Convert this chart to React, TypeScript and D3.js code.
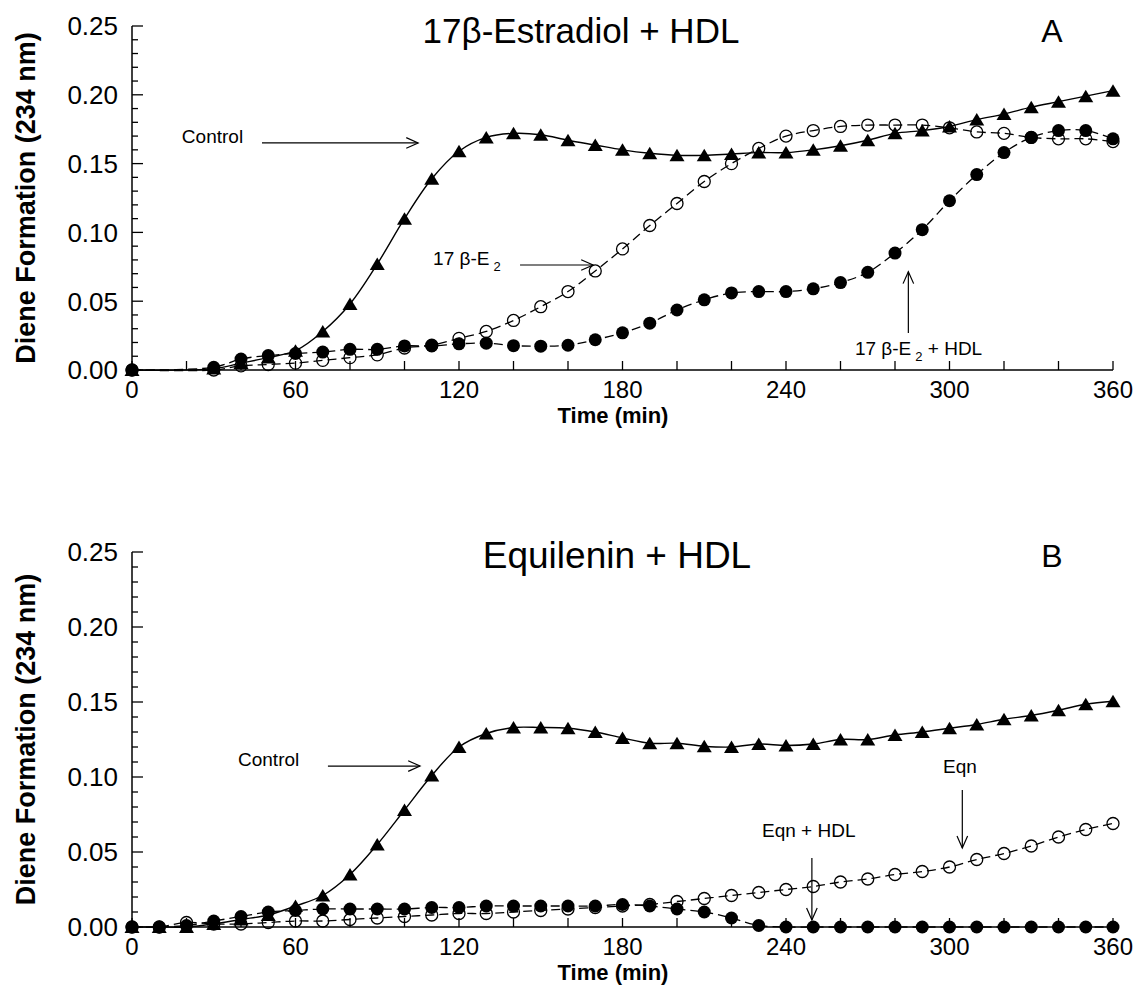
import React from "react";
import * as d3 from "d3";

// time points (min)
const timesA = [0, 30, 40, 50, 60, 70, 80, 90, 100, 110, 120, 130, 140, 150, 160, 170, 180, 190, 200, 210, 220, 230, 240, 250, 260, 270, 280, 290, 300, 310, 320, 330, 340, 350, 360];
const controlA = [0, 0.001, 0.005, 0.009, 0.014, 0.028, 0.048, 0.077, 0.110, 0.139, 0.159, 0.169, 0.172, 0.171, 0.167, 0.1635, 0.160, 0.1575, 0.156, 0.156, 0.157, 0.158, 0.158, 0.160, 0.163, 0.167, 0.172, 0.174, 0.177, 0.182, 0.186, 0.191, 0.195, 0.199, 0.203];
const e2A = [0, 0, 0.003, 0.004, 0.005, 0.007, 0.009, 0.011, 0.016, 0.018, 0.023, 0.028, 0.036, 0.046, 0.057, 0.072, 0.088, 0.105, 0.121, 0.137, 0.150, 0.161, 0.170, 0.174, 0.177, 0.178, 0.178, 0.178, 0.176, 0.173, 0.172, 0.169, 0.168, 0.168, 0.166];
const e2HdlA = [0, 0.002, 0.008, 0.0105, 0.012, 0.013, 0.015, 0.015, 0.0175, 0.0175, 0.019, 0.0195, 0.0177, 0.0173, 0.018, 0.022, 0.027, 0.034, 0.0436, 0.051, 0.056, 0.057, 0.057, 0.059, 0.0635, 0.071, 0.085, 0.102, 0.123, 0.142, 0.158, 0.169, 0.174, 0.174, 0.168];

const timesB = [0, 10, 20, 30, 40, 50, 60, 70, 80, 90, 100, 110, 120, 130, 140, 150, 160, 170, 180, 190, 200, 210, 220, 230, 240, 250, 260, 270, 280, 290, 300, 310, 320, 330, 340, 350, 360];
const controlB = [0, 0, 0, 0.002, 0.005, 0.008, 0.014, 0.021, 0.035, 0.055, 0.078, 0.101, 0.120, 0.129, 0.133, 0.133, 0.1325, 0.130, 0.126, 0.1225, 0.1225, 0.1205, 0.120, 0.122, 0.121, 0.122, 0.125, 0.125, 0.128, 0.130, 0.1325, 0.135, 0.1385, 0.141, 0.1445, 0.1485, 0.1505];
const eqnB = [0, 0, 0.003, 0.002, 0.002, 0.003, 0.004, 0.004, 0.005, 0.006, 0.007, 0.008, 0.009, 0.009, 0.010, 0.011, 0.012, 0.013, 0.014, 0.015, 0.017, 0.019, 0.021, 0.023, 0.025, 0.027, 0.030, 0.032, 0.035, 0.037, 0.040, 0.045, 0.049, 0.054, 0.060, 0.065, 0.069];
const eqnHdlB = [0, 0, 0.001, 0.004, 0.007, 0.010, 0.011, 0.012, 0.012, 0.012, 0.012, 0.013, 0.013, 0.014, 0.014, 0.014, 0.014, 0.014, 0.015, 0.014, 0.012, 0.010, 0.006, 0.001, 0, 0, 0, 0, 0, 0, 0, 0, 0, 0, 0, 0, 0];

const xTickValues = [0, 20, 40, 60, 80, 100, 120, 140, 160, 180, 200, 220, 240, 260, 280, 300, 320, 340, 360];
const xTickLabels = [0, 60, 120, 180, 240, 300, 360];
const yTickLabels = [0, 0.05, 0.1, 0.15, 0.2, 0.25];

const FONT = '"Liberation Sans", Arial, Helvetica, sans-serif';
const TRI = "M0,-6.5L7.5,6L-7.5,6Z";

type Ann = {
  parts: { t: string; sub?: boolean }[];
  at: [number, number]; // text start (time, value)
  from: [number, number];
  to: [number, number];
};

const annA: Ann[] = [
  { parts: [{ t: "Control" }], at: [18.3, 0.165], from: [47.7, 0.165], to: [105, 0.165] },
  { parts: [{ t: "17 β-E" }, { t: "2", sub: true }], at: [110.5, 0.0763], from: [142.4, 0.0763], to: [169.2, 0.0763] },
  { parts: [{ t: "17 β-E" }, { t: "2", sub: true }, { t: " + HDL" }], at: [265.3, 0.0109], from: [284.9, 0.0269], to: [284.9, 0.0714] },
];
const annB: Ann[] = [
  { parts: [{ t: "Control" }], at: [38.9, 0.1073], from: [71.9, 0.1073], to: [105.7, 0.1073] },
  { parts: [{ t: "Eqn + HDL" }], at: [231.2, 0.06], from: [249.5, 0.046], to: [249.5, 0.0047] },
  { parts: [{ t: "Eqn" }], at: [297.6, 0.1027], from: [304.7, 0.0913], to: [304.7, 0.0527] },
];

function Panel(props: {
  y0: number; y1: number; times: number[];
  control: number[]; open: number[]; filled: number[];
  title: string; titleX: number; titleY: number; titleSize: number; letter: string; anns: Ann[];
}) {
  const { y0, y1, times, control, open, filled, title, titleX, titleY, titleSize, letter, anns } = props;
  const x = d3.scaleLinear().domain([0, 360]).range([132, 1113]);
  const y = d3.scaleLinear().domain([0, 0.25]).range([y0, y1]);
  const line = d3.line<number>()
    .x((_, i) => x(times[i]))
    .y(d => y(d))
    .curve(d3.curveCatmullRom.alpha(0.5));
  const minor = d3.range(0, 26).map(i => i / 100);
  const xL = x(0);

  const arrow = (a: Ann, k: number) => {
    const [fx, fy] = [x(a.from[0]), y(a.from[1])];
    const [tx, ty] = [x(a.to[0]), y(a.to[1])];
    const ang = Math.atan2(ty - fy, tx - fx);
    const L = 13, s = 0.42;
    const h1 = [tx - L * Math.cos(ang - s), ty - L * Math.sin(ang - s)];
    const h2 = [tx - L * Math.cos(ang + s), ty - L * Math.sin(ang + s)];
    return (
      <g key={"ar" + k} stroke="#000" strokeWidth={1.2} fill="none">
        <line x1={fx} y1={fy} x2={tx} y2={ty} />
        <polyline points={`${h1[0]},${h1[1]} ${tx},${ty} ${h2[0]},${h2[1]}`} />
      </g>
    );
  };

  return (
    <g>
      {/* axes */}
      <line x1={xL} x2={x(360)} y1={y0} y2={y0} stroke="#000" strokeWidth={1.5} />
      <line x1={xL} x2={xL} y1={y0} y2={y1} stroke="#000" strokeWidth={1.5} />
      {minor.map(v => {
        const major = Math.round(v * 100) % 5 === 0;
        return <line key={"yt" + v} x1={xL} x2={xL + (major ? 11 : 6)} y1={y(v)} y2={y(v)} stroke="#000" strokeWidth={1.3} />;
      })}
      {xTickValues.map(t => (
        <line key={"xt" + t} x1={x(t)} x2={x(t)} y1={y0} y2={y0 - 9} stroke="#000" strokeWidth={1.3} />
      ))}
      {yTickLabels.map(v => (
        <text key={"yl" + v} x={118} y={y(v)} dy="0.36em" textAnchor="end" fontSize={26} fontFamily={FONT}>{v.toFixed(2)}</text>
      ))}
      {xTickLabels.map(t => (
        <text key={"xl" + t} x={x(t)} y={y0 + 19} dy="0.36em" textAnchor="middle" fontSize={24} fontFamily={FONT}>{t}</text>
      ))}
      <text x={613} y={y0 + 45} dy="0.36em" textAnchor="middle" fontSize={22} fontWeight="bold" fontFamily={FONT}>Time (min)</text>
      <text transform={`translate(25,${(y0 + y1) / 2}) rotate(-90)`} dy="0.36em" textAnchor="middle" fontSize={27} fontWeight="bold" fontFamily={FONT}>Diene Formation (234 nm)</text>
      <text x={titleX} y={titleY} dy="0.36em" textAnchor="middle" fontSize={titleSize} fontFamily={FONT}>{title}</text>
      <text x={1052} y={titleY} dy="0.36em" textAnchor="middle" fontSize={32} fontFamily={FONT}>{letter}</text>

      {/* control */}
      <path d={line(control) || ""} fill="none" stroke="#000" strokeWidth={1.4} />
      {control.map((v, i) => (
        <path key={"c" + i} d={TRI} transform={`translate(${x(times[i])},${y(v)})`} fill="#000" />
      ))}
      {/* open circles */}
      <path d={line(open) || ""} fill="none" stroke="#000" strokeWidth={1.3} strokeDasharray="9,5" />
      {open.map((v, i) => (
        <circle key={"o" + i} cx={x(times[i])} cy={y(v)} r={6} fill="none" stroke="#000" strokeWidth={1.3} />
      ))}
      {/* filled circles */}
      <path d={line(filled) || ""} fill="none" stroke="#000" strokeWidth={1.3} strokeDasharray="9,5" />
      {filled.map((v, i) => (
        <circle key={"f" + i} cx={x(times[i])} cy={y(v)} r={6.5} fill="#000" />
      ))}

      {/* annotations */}
      {anns.map((a, k) => (
        <g key={"an" + k}>
          <text x={x(a.at[0])} y={y(a.at[1])} dy="0.36em" fontSize={19} fontFamily={FONT}>
            {a.parts.map((p, j) =>
              p.sub ? (
                <tspan key={j} dx={4} dy={6} fontSize={13}>{p.t}</tspan>
              ) : (
                <tspan key={j} dy={j > 0 ? -6 : 0}>{p.t}</tspan>
              )
            )}
          </text>
          {arrow(a, k)}
        </g>
      ))}
    </g>
  );
}

export default function App() {
  return (
    <svg width={1139} height={1007} style={{ position: "absolute", left: 0, top: 0, background: "#fff" }}>
      <rect width={1139} height={1007} fill="#fff" />
      <Panel y0={370} y1={26} times={timesA} control={controlA} open={e2A} filled={e2HdlA}
        title="17β-Estradiol + HDL" titleX={581} titleY={30} titleSize={35} letter="A" anns={annA} />
      <Panel y0={927} y1={552} times={timesB} control={controlB} open={eqnB} filled={eqnHdlB}
        title="Equilenin + HDL" titleX={617} titleY={555} titleSize={37} letter="B" anns={annB} />
    </svg>
  );
}
